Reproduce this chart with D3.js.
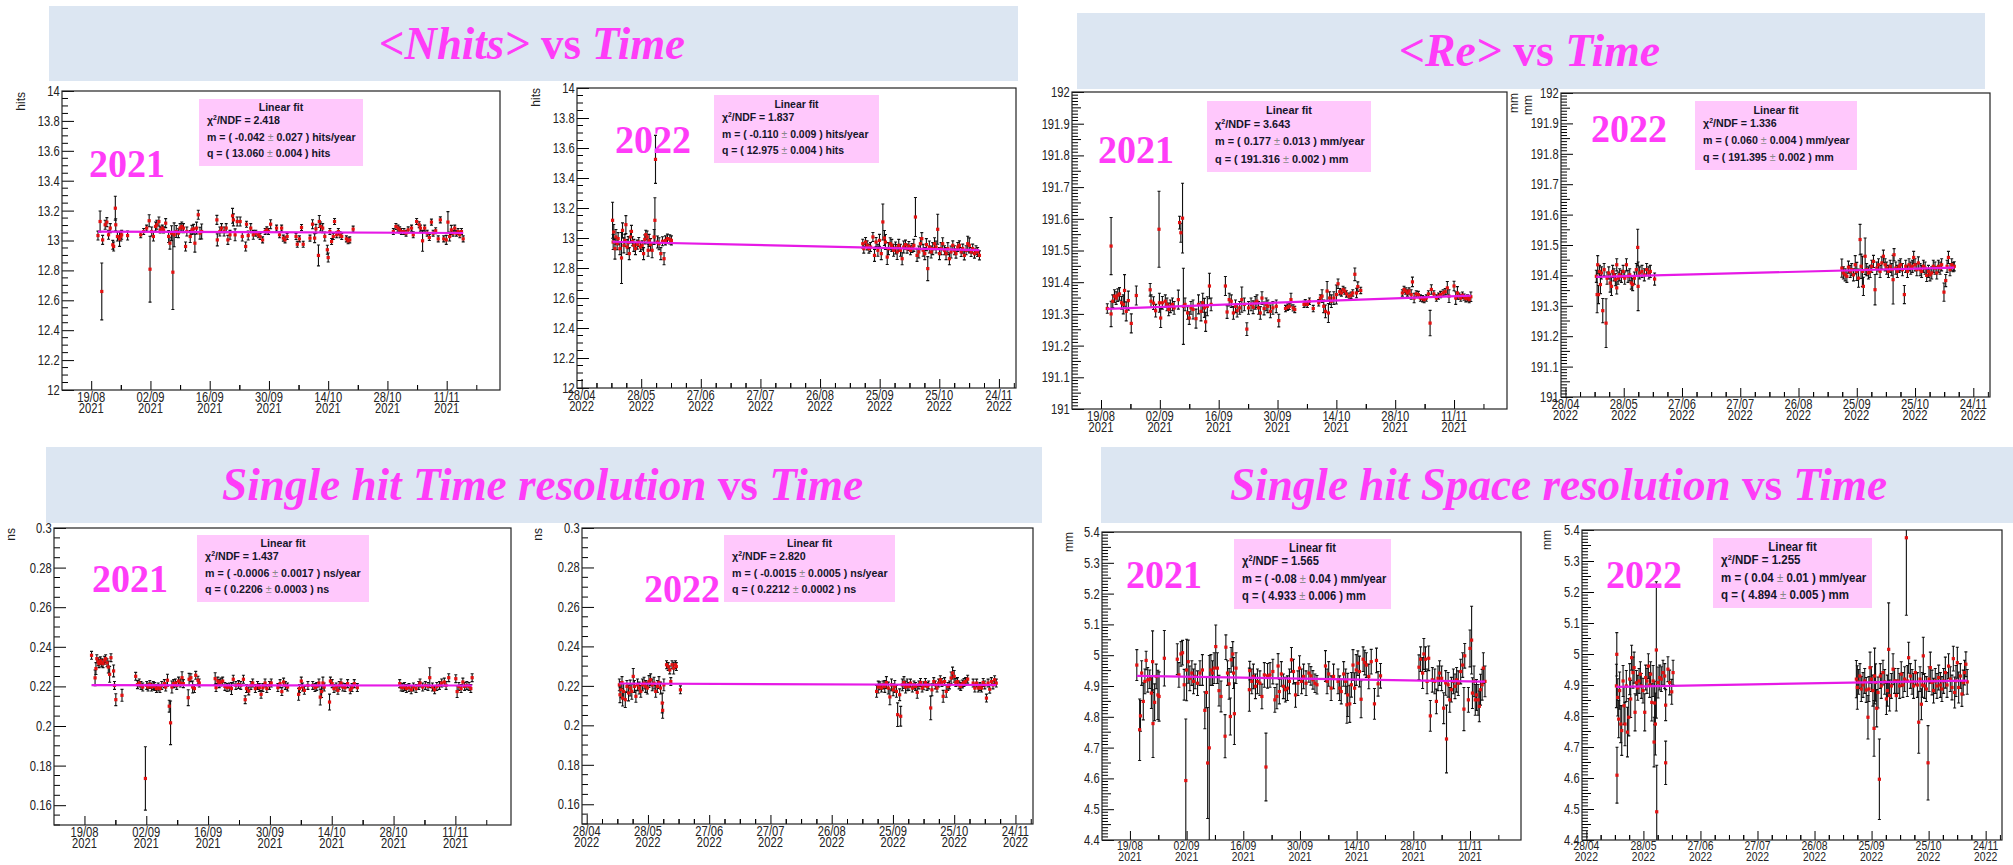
<!DOCTYPE html>
<html>
<head>
<meta charset="utf-8">
<script src="https://cdn.jsdelivr.net/npm/d3@7"></script>
<style>
body { margin: 0; background: #fff; }
svg text { font-family: "Liberation Sans", Arial, sans-serif; }
</style>
</head>
<body>
<div id="chart-area"></div>
<script>
// ---------- data (days since 19/08/2021 or 28/04/2022) ----------

// <Nhits> 2021
const nhits21Day = [1.6,2.1,2.5,2.7,3.3,3.7,4.1,4.5,5.1,5.3, 5.7,5.8,6.2,6.7,7.0,7.2,8.6,11.7,12.4,13.1,
  13.7,13.9,14.3,14.7,15.2,15.5,16.0,16.3,16.8,17.1, 17.6,18.3,18.6,19.0,19.3,19.6,20.1,20.6,21.0,21.4,
  21.8,22.3,22.6,23.4,23.8,24.2,24.5,24.9,25.3,25.7, 26.1,29.7,29.8,30.4,30.8,31.4,31.9,32.3,32.8,33.4,
  33.6,34.0,34.5,35.2,35.7,36.5,36.7,37.1,37.7,38.3, 38.9,39.5,39.9,40.5,41.1,41.5,41.9,42.4,43.8,44.5,
  45.0,45.4,45.8,46.3,48.4,48.7,49.2,49.7,50.1,51.7, 52.3,52.8,53.1,53.7,53.9,54.2,54.7,55.2,55.8,56.0,
  56.4,56.8,57.2,57.5,58.0,58.4,58.8,59.2,60.3,60.7, 61.1,61.9,71.4,72.0,72.5,72.9,73.3,73.9,74.4,74.9,
  75.7,76.1,76.9,77.5,77.8,78.3,78.8,79.4,79.9,80.4, 80.8,81.4,82.0,82.5,83.3,83.9,84.3,84.7,85.1,85.5,
  85.9,86.3,86.7,87.1,87.5,87.9];
const nhits21Val = [13.033,13.127,12.659,13.004,13.105,13.123,13.038,13.083,12.971,12.96,
  13.216,13.105,13.027,13.011,13.027,13.038,13.033,13.038,13.06,13.083,
  13.132,12.808,13.06,13.027,13.094,13.105,13.127,13.071,13.083,13.071,
  13.116,13.027,12.982,13.049,12.788,13.038,13.06,13.049,13.083,13.094,
  13.083,12.96,13.06,13.027,13.071,13.078,12.982,13.083,13.172,13.049,
  13.06,13.138,13.004,13.06,13.083,13.06,13.083,13.004,13.038,13.165,
  13.138,13.038,13.127,13.127,13.027,12.96,13.109,13.033,13.083,13.038,
  13.049,13.038,13.027,13.004,13.06,13.071,13.06,13.109,13.083,13.038,
  13.083,13.016,13.004,13.027,13.027,12.975,13.011,13.087,12.975,13.016,
  13.109,13.016,13.078,12.9,13.127,13.094,13.083,13.027,12.938,12.886,
  13.06,12.993,13.027,13.127,13.038,13.06,13.038,13.027,13.011,12.998,
  13.004,13.076,13.06,13.094,13.083,13.071,13.06,13.06,13.049,13.071,
  13.083,13.038,13.127,13.105,13.083,12.998,13.083,13.049,13.02,13.123,
  13.049,13.065,13.011,13.138,13.011,13.004,13.123,13.027,13.071,13.049,
  13.083,13.049,13.06,13.038,13.06,13.011];
const nhits21Err = [.03,.07,.19,.03,.03,.03,.03,.03,.03,.03, .08,.04,.03,.05,.03,.03,.03,.02,.02,.02,
  .04,.22,.03,.03,.03,.03,.03,.02,.02,.02, .03,.04,.04,.05,.25,.08,.04,.03,.03,.03,
  .03,.03,.03,.04,.03,.03,.06,.04,.03,.04, .05,.03,.04,.03,.03,.03,.03,.03,.03,.05,
  .04,.04,.03,.03,.03,.03,.02,.03,.03,.03, .02,.02,.02,.02,.02,.02,.02,.03,.02,.02,
  .02,.02,.02,.02,.02,.02,.02,.02,.02,.02, .03,.03,.03,.07,.04,.03,.03,.03,.03,.03,
  .02,.02,.02,.02,.02,.02,.02,.02,.02,.02, .02,.02,.02,.02,.02,.02,.02,.02,.02,.02,
  .02,.02,.02,.02,.02,.07,.02,.02,.02,.02, .02,.02,.02,.02,.02,.03,.07,.03,.03,.02,
  .02,.02,.02,.02,.02,.02];

// <Nhits> 2022
const nhits22Day = [15.6,15.9,16.2,16.8,17.3,17.9,18.4,19.3,20.1,20.6, 21.3,21.8,22.3,22.9,23.5,24.0,24.6,25.1,25.6,26.3,
  27.1,28.0,28.8,29.6,30.5,31.2,31.8,32.3,33.0,33.5, 34.0,34.7,35.5,36.5,36.9,37.2,38.2,39.0,39.9,40.7,
  41.5,42.2,43.2,44.4,45.2,
  141.5,142.0,142.9,143.7,144.6,145.4,146.6,147.4,148.2,149.1, 149.9,150.8,151.6,152.4,152.9,153.8,154.4,155.3,156.1,157.0,
  158.0,158.8,159.6,160.5,161.3,162.1,163.0,163.8,164.7,165.5, 166.3,167.2,168.0,168.8,169.7,170.5,171.2,171.9,172.7,173.5,
  174.2,175.0,175.9,176.7,177.6,178.4,179.2,180.1,180.9,181.7, 182.6,183.4,184.3,185.1,185.9,186.8,187.6,188.4,189.3,190.1,
  191.0,191.8,192.6,193.5,194.3,195.1,196.0,196.8,197.7,198.5, 199.3,200.2];
const nhits22Val = [13.118,12.973,13.04,12.929,13.007,12.962,12.996,12.929,12.867,13.051,
  12.951,12.984,13.089,12.94,12.969,12.896,13.007,13.044,12.978,12.951,
  12.929,12.956,12.973,12.94,12.951,12.896,12.991,13.022,13.007,12.918,
  12.984,12.956,12.918,13.007,13.118,13.524,12.973,12.962,12.896,12.978,
  12.862,12.984,12.996,12.991,12.984,
  12.962,12.929,12.973,12.951,12.929,12.94,13.007,12.884,12.973,12.918,
  12.984,12.896,13.107,13.0,12.973,12.873,12.929,12.962,12.951,12.918,
  12.933,12.907,12.951,12.918,12.862,12.94,12.956,12.929,12.947,12.918,
  12.933,12.951,13.14,12.884,12.907,12.962,12.996,12.918,12.896,12.956,
  12.796,12.94,12.907,12.929,12.962,12.94,13.058,12.896,12.929,12.962,
  12.918,12.896,12.929,12.862,12.907,12.951,12.918,12.896,12.94,12.951,
  12.907,12.929,12.884,12.918,12.962,12.951,12.907,12.929,12.896,12.918,
  12.907,12.884];
const nhits22Err = [.12,.05,.05,.07,.05,.04,.04,.04,.17,.05, .05,.04,.06,.05,.04,.04,.04,.04,.03,.04,
  .04,.03,.03,.03,.03,.04,.03,.03,.04,.04, .04,.04,.05,.05,.15,.16,.04,.04,.04,.03,
  .04,.03,.03,.03,.03,
  .03,.03,.03,.03,.03,.03,.03,.04,.03,.04, .04,.04,.12,.05,.05,.05,.04,.04,.04,.04,
  .04,.05,.04,.04,.04,.04,.03,.03,.03,.03, .03,.04,.13,.04,.04,.04,.04,.04,.04,.04,
  .08,.04,.04,.04,.04,.04,.1,.04,.04,.04, .03,.04,.04,.04,.04,.03,.03,.03,.03,.03,
  .03,.03,.03,.03,.05,.05,.03,.03,.03,.03, .03,.03];

// <Re> 2021
const re21Day = [1.5,2.4,2.4,2.8,3.2,3.6,4.0,4.4,4.9,5.3, 5.6,6.0,6.5,7.2,8.4,11.7,11.9,12.5,13.0,13.8,
  13.9,14.2,14.6,15.3,15.7,16.1,16.5,17.0,17.4,18.4, 18.7,19.0,19.4,19.6,20.0,20.6,21.0,21.4,21.9,22.6,
  23.2,23.8,24.2,24.6,24.9,25.3,25.8,26.2,29.6,30.0, 30.5,31.0,31.5,32.0,32.4,33.0,33.5,34.1,34.7,35.1,
  35.7,36.2,36.7,37.1,37.5,37.9,38.3,38.8,39.3,39.7, 40.3,40.9,41.7,42.3,43.9,44.4,44.8,45.2,45.7,46.1,
  48.3,48.6,49.1,49.6,50.5,51.8,52.2,52.6,53.0,53.4, 53.8,54.1,54.4,54.8,55.4,56.0,56.4,56.8,57.2,57.6,
  58.0,58.4,59.0,59.5,59.9,60.4,60.8,61.1,61.8,71.7, 72.1,72.5,72.9,73.3,73.8,74.1,74.5,75.0,75.5,76.0,
  76.5,76.9,77.4,77.9,78.3,78.6,79.2,79.8,80.3,80.8, 81.4,81.9,82.4,82.8,84.0,84.4,84.8,85.2,85.6,86.0,
  86.4,86.8,87.2,87.6,88.0];
const re21Val = [191.317,191.514,191.30,191.34,191.356,191.35,191.359,191.363,191.335,191.33,
  191.374,191.308,191.342,191.27,191.358,191.376,191.34,191.334,191.31,191.567,
  191.335,191.287,191.335,191.34,191.33,191.314,191.324,191.33,191.319,191.345,
  191.588,191.556,191.602,191.324,191.33,191.303,191.287,191.319,191.314,191.285,
  191.33,191.308,191.335,191.319,191.275,191.324,191.388,191.33,191.388,191.306,
  191.345,191.34,191.303,191.324,191.31,191.319,191.345,191.33,191.252,191.319,
  191.33,191.321,191.335,191.34,191.319,191.303,191.35,191.317,191.33,191.324,
  191.308,191.319,191.324,191.279,191.317,191.321,191.324,191.345,191.319,191.314,
  191.33,191.335,191.33,191.34,191.317,191.335,191.35,191.356,191.324,191.308,
  191.372,191.303,191.35,191.34,191.35,191.361,191.395,191.37,191.366,191.377,
  191.372,191.363,191.356,191.359,191.366,191.425,191.366,191.386,191.374,191.366,
  191.377,191.372,191.366,191.372,191.361,191.401,191.35,191.363,191.361,191.35,
  191.348,191.345,191.35,191.363,191.271,191.377,191.363,191.35,191.356,191.361,
  191.366,191.37,191.382,191.356,191.388,191.35,191.366,191.356,191.35,191.359,
  191.353,191.348,191.35,191.345,191.354];
const re21Err = [.015,.09,.04,.02,.02,.02,.02,.02,.02,.03, .05,.03,.03,.03,.03,.02,.02,.02,.02,.12,
  .03,.03,.02,.02,.02,.02,.02,.02,.02,.03, .02,.03,.11,.12,.02,.02,.02,.02,.03,.03,
  .03,.03,.03,.03,.03,.03,.04,.02,.03,.02, .02,.02,.02,.02,.02,.02,.04,.02,.02,.02,
  .02,.02,.02,.02,.02,.02,.02,.02,.02,.02, .02,.02,.02,.02,.01,.01,.01,.02,.01,.01,
  .01,.01,.01,.01,.01,.01,.01,.02,.02,.02, .03,.03,.02,.02,.02,.03,.015,.01,.01,.01,
  .01,.01,.01,.01,.01,.02,.015,.015,.01,.01, .01,.01,.01,.01,.015,.015,.015,.01,.01,.01,
  .01,.01,.01,.01,.04,.015,.01,.01,.01,.01, .01,.01,.02,.02,.015,.02,.02,.01,.01,.01,
  .01,.01,.01,.01,.015];

// <Re> 2022
const re22Day = [15.9,16.3,16.6,17.0,17.5,18.0,18.5,19.2,19.9,20.9, 21.4,22.3,23.0,23.7,24.3,25.0,25.7,26.4,26.4,27.1,
  27.9,28.8,29.7,30.5,31.4,32.2,33.1,33.9,34.6,35.5, 36.5,37.2,37.4,38.2,39.4,40.6,41.8,42.9,43.7,45.9,
  142.3,143.1,144.0,144.9,145.7,146.6,147.4,148.3,149.2,150.0, 150.9,151.7,152.2,152.9,153.4,154.3,155.1,156.0,156.9,157.7,
  158.6,159.4,160.3,161.2,162.0,162.9,163.7,164.6,165.4,166.3, 167.2,168.0,168.7,169.2,170.1,170.9,171.8,172.6,173.5,174.5,
  175.2,176.1,176.9,177.8,178.6,179.3,180.0,180.9,181.7,182.6, 183.4,184.3,185.2,186.0,186.9,187.7,188.6,189.4,190.3,191.2,
  192.0,192.9,193.7,194.9,195.8,196.5,197.2,198.0,198.9,199.7, 200.2];
const re22Val = [191.397,191.337,191.435,191.337,191.413,191.37,191.408,191.284,191.419,191.243,
  191.391,191.408,191.375,191.364,191.413,191.402,191.386,191.435,191.359,191.391,
  191.402,191.397,191.413,191.391,191.435,191.397,191.402,191.375,191.37,191.391,
  191.419,191.492,191.364,191.408,191.413,191.402,191.419,191.408,191.413,191.388,
  191.424,191.408,191.402,191.397,191.427,191.413,191.419,191.402,191.435,191.413,
  191.391,191.518,191.43,191.413,191.364,191.463,191.419,191.408,191.413,191.43,
  191.446,191.353,191.424,191.435,191.413,191.441,191.463,191.435,191.424,191.413,
  191.43,191.419,191.386,191.468,191.424,191.413,191.43,191.435,191.419,191.337,
  191.43,191.413,191.435,191.424,191.43,191.459,191.435,191.419,191.441,191.419,
  191.413,191.43,191.424,191.4,191.413,191.402,191.408,191.43,191.424,191.408,
  191.43,191.424,191.435,191.345,191.383,191.43,191.459,191.419,191.435,191.427,
  191.43];
const re22Err = [.02,.06,.03,.03,.02,.03,.02,.04,.02,.08, .02,.02,.03,.03,.02,.02,.02,.02,.02,.02,
  .02,.02,.02,.02,.02,.02,.02,.02,.02,.02, .02,.06,.08,.02,.02,.02,.02,.02,.02,.02,
  .03,.02,.02,.02,.02,.02,.02,.02,.03,.03, .03,.05,.04,.05,.03,.06,.02,.02,.02,.02,
  .02,.05,.02,.02,.02,.02,.02,.02,.02,.02, .02,.02,.08,.02,.02,.02,.02,.02,.02,.03,
  .02,.02,.02,.02,.02,.02,.02,.02,.02,.02, .02,.02,.02,.02,.02,.02,.02,.02,.02,.02,
  .02,.02,.02,.03,.02,.02,.02,.02,.02,.015, .015];

// Time resolution 2021
const ns21Day = [1.6,2.4,2.6,2.8,3.1,3.3,3.6,3.9,4.2,4.5, 4.8,5.1,5.4,5.7,6.0,6.6,6.8,7.1,8.5,11.6,
  12.0,12.4,12.8,13.2,13.8,14.1,14.4,14.8,15.2,15.6, 15.9,16.3,16.7,17.1,17.5,18.1,18.4,18.8,19.2,19.5,
  19.8,20.2,20.6,20.9,21.3,21.7,22.1,22.4,23.5,23.7, 24.1,24.5,24.9,25.2,25.7,26.0,29.6,29.8,30.2,30.5,
  30.9,31.3,31.8,32.3,32.8,33.3,33.7,34.3,34.9,35.4, 36.0,36.4,36.7,37.2,37.7,38.1,38.7,39.2,39.6,40.0,
  40.4,40.9,41.3,41.9,42.3,43.8,44.3,44.7,45.1,45.5, 46.0,48.5,48.7,49.1,49.4,49.8,50.6,51.7,52.2,52.6,
  53.1,53.4,53.7,54.0,54.3,55.5,55.7,56.1,56.5,57.0, 57.4,57.7,58.1,58.5,59.0,59.6,60.2,60.6,61.1,61.8,
  71.4,71.7,72.1,72.5,72.9,73.5,74.0,74.5,75.1,75.7, 76.0,76.6,77.2,77.8,78.2,78.8,79.3,79.8,80.4,80.9,
  81.5,81.9,82.5,84.1,84.4,84.8,85.3,85.7,86.1,86.6, 87.1,87.5,87.8];
const ns21Val = [.2357,.2243,.229,.234,.2324,.2315,.2329,.2319,.2315,.2332, .234,.2319,.2298,.2261,.2345,.2278,.2205,.2133,.2155,.2251,
  .2209,.2217,.2205,.2197,.1735,.2205,.2197,.221,.2197,.2205, .22,.2189,.2197,.2189,.2205,.2214,.2197,.2231,.21,.2016,
  .2197,.2214,.2217,.2205,.2227,.2217,.2244,.2214,.2143,.2236, .2244,.2197,.2189,.2256,.2231,.2217,.2239,.2194,.2227,.2214,
  .2222,.2227,.22,.2194,.2197,.2189,.2236,.2205,.221,.2205, .2236,.2133,.2189,.2177,.2205,.2217,.2189,.2205,.2194,.216,
  .2194,.2217,.2189,.2205,.2217,.2194,.2214,.2174,.2222,.2205, .2197,.216,.2189,.2227,.2197,.218,.2205,.2205,.2194,.22,
  .2217,.2146,.2174,.2217,.2197,.2121,.2227,.2214,.2189,.2197, .218,.2205,.2217,.2197,.2194,.2214,.2183,.2194,.2214,.2194,
  .2214,.2197,.2194,.22,.2189,.2194,.2183,.2197,.2189,.2205, .2217,.2197,.2205,.22,.2244,.2197,.2183,.22,.2205,.2217,
  .2222,.2205,.2244,.2239,.2174,.22,.2189,.2222,.22,.2205, .22,.2189,.2244];
const ns21Err = [.002,.004,.003,.002,.002,.002,.002,.002,.002,.002, .002,.002,.003,.004,.002,.003,.002,.003,.003,.002,
  .002,.002,.002,.002,.016,.002,.002,.002,.002,.002, .002,.002,.002,.002,.002,.002,.002,.003,.003,.011,
  .003,.002,.002,.002,.002,.002,.003,.002,.004,.003, .002,.003,.002,.002,.002,.002,.003,.002,.002,.002,
  .002,.002,.002,.002,.002,.003,.002,.002,.002,.002, .002,.002,.002,.002,.002,.002,.002,.002,.002,.002,
  .002,.002,.002,.002,.002,.002,.002,.002,.002,.002, .002,.003,.002,.002,.002,.002,.002,.002,.002,.002,
  .002,.004,.003,.003,.002,.004,.002,.002,.002,.002, .002,.002,.002,.002,.002,.002,.002,.002,.002,.002,
  .002,.002,.002,.002,.002,.002,.002,.002,.002,.002, .002,.002,.002,.002,.005,.002,.002,.002,.002,.002,
  .002,.002,.002,.002,.003,.002,.002,.002,.002,.002, .002,.002,.002];

// Time resolution 2022
const ns22Day = [16.0,16.3,16.8,17.3,17.6,18.1,18.9,19.7,20.5,21.3, 22.1,22.8,23.4,24.1,24.9,25.7,26.5,27.3,28.1,28.9,
  29.7,30.5,31.3,32.1,33.0,33.8,34.6,35.4,36.2,37.0, 37.2,37.8,39.1,39.9,40.7,41.2,41.8,42.6,43.5,43.9,
  45.9,
  142.0,142.8,143.6,144.4,145.2,146.0,146.8,147.7,148.5,149.3, 150.1,150.9,151.7,152.3,153.3,153.8,154.6,155.4,156.2,157.0,
  157.8,158.6,159.5,160.3,161.1,161.9,162.7,163.5,164.3,165.1, 165.9,166.7,167.5,168.5,169.1,170.0,170.8,171.6,172.4,173.2,
  174.0,174.6,175.3,176.1,176.9,177.7,178.5,179.2,180.0,180.8, 181.6,182.4,183.2,184.0,184.8,185.6,186.6,189.3,190.1,191.0,
  191.8,192.6,193.4,194.2,195.0,195.8,196.6,197.4,198.2,199.0, 199.8,200.6];
const ns22Val = [.2205,.2155,.218,.2217,.2138,.2172,.213,.2197,.2164,.2189, .2172,.2248,.2197,.2147,.2205,.2189,.2172,.2205,.2214,.2197,
  .2189,.2222,.2231,.2205,.2214,.2172,.2197,.2217,.2189,.2113, .2076,.2205,.2307,.2298,.2281,.2222,.2307,.229,.2307,.2298,
  .218,
  .2172,.2194,.22,.2189,.2205,.2197,.2217,.2189,.2144,.2205, .218,.2197,.2172,.2054,.2155,.2046,.2205,.2217,.2194,.2205,
  .2197,.2214,.2189,.2205,.2197,.2167,.2205,.2217,.2189,.22, .2217,.2197,.2205,.2088,.218,.2222,.2205,.2189,.2214,.2231,
  .2217,.2147,.2222,.2172,.2197,.2205,.224,.2265,.2248,.2217, .2222,.2205,.2197,.221,.2217,.2222,.2234,.2214,.2189,.2214,
  .2189,.2197,.2189,.2217,.2205,.2138,.2214,.2183,.2222,.2205, .2231,.2214];
const ns22Err = [.003,.004,.004,.003,.004,.004,.004,.003,.004,.004, .004,.004,.003,.003,.003,.003,.003,.003,.003,.003,
  .003,.003,.003,.003,.003,.003,.003,.003,.003,.005, .004,.003,.002,.002,.002,.002,.002,.003,.002,.002,
  .002,
  .003,.003,.002,.002,.002,.003,.003,.003,.004,.003, .003,.003,.003,.006,.003,.005,.003,.003,.003,.003,
  .002,.002,.002,.002,.002,.003,.002,.002,.002,.002, .002,.002,.002,.006,.003,.002,.002,.002,.002,.002,
  .002,.003,.002,.003,.002,.002,.003,.003,.003,.002, .002,.002,.002,.002,.002,.002,.002,.002,.002,.002,
  .002,.002,.002,.002,.002,.002,.002,.002,.002,.002, .002,.002];

// Space resolution 2021
const sp21Day = [1.7,2.4,2.6,2.9,3.3,3.7,4.0,4.4,4.9,5.3, 5.6,5.7,6.1,6.5,6.9,7.2,8.5,11.7,12.1,12.6,
  13.0,13.4,13.8,14.0,14.4,14.8,15.3,15.7,16.1,16.7, 17.3,17.9,18.5,18.9,19.2,19.6,20.0,20.4,20.8,21.2,
  21.6,22.0,22.5,23.5,23.7,24.1,24.5,24.8,25.0,25.4, 25.6,25.8,26.2,29.5,29.6,30.1,30.5,31.0,31.5,32.1,
  32.6,33.2,33.6,34.0,34.6,35.3,35.8,36.3,36.6,36.9, 37.4,37.9,38.4,38.9,39.4,39.9,40.4,40.9,41.5,41.9,
  42.4,42.9,43.5,44.2,44.7,45.2,45.7,46.2,48.3,48.7, 49.1,49.7,50.3,51.4,51.8,52.2,52.8,53.3,53.6,53.8,
  54.3,54.7,55.1,55.5,55.9,56.3,56.7,57.1,57.6,58.0, 58.4,59.0,59.6,60.4,60.9,61.3,61.9,71.4,71.8,72.3,
  72.6,73.0,73.4,73.8,74.2,74.7,75.3,75.7,76.1,76.5, 77.0,77.5,78.0,78.2,78.6,79.0,79.4,79.9,80.3,80.7,
  81.1,81.7,82.2,82.5,82.7,83.6,84.0,84.4,84.6,85.0, 85.3,85.6,86.0,86.3,86.6,87.0,87.3,87.7];
const sp21Val = [4.968,4.758,4.803,4.942,4.85,4.915,4.983,4.92,4.922,4.877, 4.979,4.778,4.847,4.931,4.871,4.866,4.99,4.987,4.936,5.004,
  5.008,4.904,4.593,4.952,4.979,4.925,4.942,4.915,4.931,4.909, 4.942,4.952,4.821,4.879,4.65,4.699,4.952,4.942,4.958,5.028,
  4.958,4.885,4.866,4.737,5.026,4.942,4.907,4.801,4.985,5.004, 4.942,4.81,4.958,4.888,4.95,4.915,4.931,4.899,4.915,4.909,
  4.866,4.936,4.637,4.933,4.936,4.947,4.855,4.866,4.965,4.882, 4.939,4.899,4.888,4.893,4.915,4.985,4.947,4.871,4.909,4.958,
  4.915,4.931,4.909,4.942,4.933,4.92,4.909,4.904,4.965,4.915, 4.939,4.893,4.931,4.915,4.893,4.882,4.939,4.915,4.839,4.871,
  4.842,4.904,4.968,4.893,4.952,4.974,4.947,4.857,4.987,4.976, 4.968,4.931,4.979,4.842,4.983,4.907,4.933,4.961,4.987,4.942,
  5.004,4.987,4.915,4.99,4.803,4.92,4.915,4.85,4.925,4.942, 4.925,4.828,4.91,4.728,4.904,4.855,4.888,4.915,4.899,4.92,
  4.909,4.947,4.968,4.825,4.998,4.855,5.022,5.049,4.877,4.915, 4.855,4.871,4.855,4.834,4.888,4.904,4.958,4.915];
const sp21Err = [.05,.1,.05,.04,.06,.04,.03,.04,.03,.05, .1,.11,.06,.04,.08,.08,.09,.05,.04,.04,
  .04,.05,.2,.1,.07,.04,.04,.04,.04,.04, .04,.05,.06,.05,.18,.3,.05,.04,.05,.07,
  .05,.05,.05,.07,.04,.04,.05,.06,.04,.04, .05,.1,.05,.07,.03,.04,.04,.04,.04,.04,
  .04,.04,.11,.04,.04,.04,.04,.04,.04,.04, .04,.04,.04,.04,.04,.04,.04,.04,.04,.04,
  .04,.04,.04,.03,.03,.03,.03,.03,.05,.04, .04,.04,.04,.04,.04,.04,.04,.04,.06,.07,
  .06,.04,.05,.05,.05,.04,.05,.06,.04,.04, .04,.04,.04,.05,.04,.04,.04,.04,.04,.05,
  .05,.04,.04,.04,.05,.04,.04,.04,.04,.04, .04,.05,.04,.11,.04,.04,.04,.04,.04,.04,
  .04,.04,.04,.07,.04,.04,.06,.11,.05,.05, .05,.05,.05,.05,.05,.05,.05,.05];

// Space resolution 2022
const sp22Day = [15.8,16.0,16.1,16.5,17.0,17.5,18.1,18.6,19.3,19.8, 20.3,21.0,21.6,22.3,22.8,23.3,23.8,24.5,25.1,25.6,
  26.3,27.0,27.7,28.4,28.9,29.8,30.7,31.2,31.9,32.6, 33.3,33.8,34.4,35.1,35.6,35.9,36.3,36.8,37.0,37.7,
  38.6,39.4,40.3,41.2,41.7,41.7,42.9,43.8,44.9,45.6,
  142.0,142.5,143.2,143.9,144.6,145.5,146.4,147.2,148.1,148.6, 149.2,149.9,150.7,151.3,151.6,152.1,152.7,153.4,154.1,154.6,
  155.1,156.0,156.9,157.8,158.3,159.0,159.5,160.4,161.3,162.1, 163.0,163.9,164.8,165.6,166.5,167.4,168.3,168.8,169.5,170.4,
  171.3,172.1,173.0,174.1,174.8,175.5,176.2,176.7,177.2,177.9, 178.8,179.7,180.2,180.9,181.8,182.6,183.5,184.4,185.3,186.2,
  187.0,187.9,188.8,189.7,190.5,191.4,192.3,193.0,193.7,194.4, 195.1,195.8,196.7,197.5,198.2,198.9,199.6,200.3];
const sp22Val = [4.897,4.999,4.609,4.86,4.79,4.882,4.774,4.753,4.913,4.833, 4.774,4.897,4.748,4.796,4.919,4.855,4.988,4.94,4.956,4.812,
  4.907,4.891,4.913,4.935,4.897,4.882,4.812,4.924,4.913,4.961, 4.9,4.935,4.844,4.913,4.716,4.842,4.774,5.013,4.491,4.908,
  4.924,4.919,4.94,4.929,4.835,4.649,4.951,4.908,4.878,4.94,
  4.919,4.892,4.91,4.929,4.887,4.9,4.913,4.884,4.796,4.887, 4.956,4.919,4.882,4.76,4.929,4.908,4.825,4.876,4.596,4.929,
  4.897,4.94,4.91,4.855,4.882,5.015,4.866,4.897,4.951,4.913, 4.866,4.913,4.897,4.935,4.9,4.919,5.375,4.913,4.988,4.929,
  4.91,4.897,4.94,4.9,4.78,4.919,4.838,4.9,4.994,4.897, 4.887,4.649,4.919,4.956,4.908,4.882,4.913,4.897,4.924,4.9,
  4.887,4.913,4.94,4.9,4.961,4.919,4.892,4.985,4.876,4.913, 4.972,4.892,4.929,4.871,4.908,4.94,4.967,4.91];
const sp22Err = [.07,.07,.09,.06,.06,.06,.06,.08,.05,.06, .07,.05,.08,.06,.05,.06,.04,.05,.05,.06,
  .04,.04,.04,.04,.04,.04,.06,.04,.04,.04, .04,.04,.06,.05,.08,.07,.1,.22,.15,.05,
  .04,.04,.04,.04,.05,.07,.04,.04,.04,.04,
  .06,.07,.04,.04,.04,.04,.04,.04,.07,.04, .05,.04,.05,.09,.09,.06,.06,.05,.13,.04,
  .04,.04,.04,.05,.05,.15,.05,.04,.05,.04, .05,.04,.04,.04,.04,.04,.25,.05,.05,.04,
  .04,.04,.04,.04,.1,.04,.05,.04,.06,.04, .04,.12,.04,.05,.04,.04,.04,.04,.04,.04,
  .04,.04,.05,.04,.04,.04,.04,.04,.05,.05, .05,.05,.04,.04,.04,.04,.04,.04];

// axis tick labels
const nhitsTicks = [12,12.2,12.4,12.6,12.8,13,13.2,13.4,13.6,13.8,14];
const reTicks = [191,191.1,191.2,191.3,191.4,191.5,191.6,191.7,191.8,191.9,192];
const nsTicks = [0.16,0.18,0.2,0.22,0.24,0.26,0.28,0.3];
const spaceTicks = [4.4,4.5,4.6,4.7,4.8,4.9,5,5.1,5.2,5.3,5.4];
const dates2021 = ["2021-08-19","2021-09-02","2021-09-16","2021-09-30","2021-10-14","2021-10-28","2021-11-11"];
const dates2022 = ["2022-04-28","2022-05-28","2022-06-27","2022-07-27","2022-08-26","2022-09-25","2022-10-25","2022-11-24"];

// linear fit results
const fitChi2 = ["2.418","1.837","3.643","1.336","1.437","2.820","1.565","1.255"];
const fitM = ["-0.042","-0.110","0.177","0.060","-0.0006","-0.0015","-0.08","0.04"];
const fitMErr = ["0.027","0.009","0.013","0.004","0.0017","0.0005","0.04","0.01"];
const fitQ = ["13.060","12.975","191.316","191.395","0.2206","0.2212","4.933","4.894"];
const fitQErr = ["0.004","0.004","0.002","0.002","0.0003","0.0002","0.006","0.005"];
const units = ["hits","hits","mm","mm","ns","ns","mm","mm"];

const titles = [
  [["<Nhits>", true], [" vs ", false], ["Time", true]],
  [["<Re>", true], [" vs ", false], ["Time", true]],
  [["Single hit Time resolution", true], [" vs ", false], ["Time", true]],
  [["Single hit Space resolution", true], [" vs ", false], ["Time", true]]
];

// ---------- layout ----------
const W = 2013, H = 865;
const MAG = "#ff3cf8", PINK = "#ffc8fc", HEAD = "#dce6f2";
const SERIF = "'Liberation Serif', 'Times New Roman', serif";
const DAY = 864e5;
const base21 = Date.UTC(2021, 7, 19), base22 = Date.UTC(2022, 3, 28);
const xDom21 = [-6.9, 96.6], xDom22 = [-2.3, 218.6];

const headers = [
  {x:49, y:6, w:969, h:75, tx:379, ty:59, tw:306, fs:46},
  {x:1077, y:13, w:908, h:76, tx:1399, ty:66, tw:261, fs:47},
  {x:46, y:447, w:996, h:76, tx:222, ty:500, tw:641, fs:47},
  {x:1101, y:447, w:912, h:76, tx:1230, ty:500, tw:657, fs:47}
];

const panels = [
  {day:nhits21Day, val:nhits21Val, err:nhits21Err, yr:2021, yDom:[12,14], ticks:nhitsTicks, div:4},
  {day:nhits22Day, val:nhits22Val, err:nhits22Err, yr:2022, yDom:[12,14], ticks:nhitsTicks, div:4},
  {day:re21Day, val:re21Val, err:re21Err, yr:2021, yDom:[191,192], ticks:reTicks, div:10},
  {day:re22Day, val:re22Val, err:re22Err, yr:2022, yDom:[191,192], ticks:reTicks, div:10},
  {day:ns21Day, val:ns21Val, err:ns21Err, yr:2021, yDom:[0.15,0.3], ticks:nsTicks, div:4},
  {day:ns22Day, val:ns22Val, err:ns22Err, yr:2022, yDom:[0.15,0.3], ticks:nsTicks, div:4},
  {day:sp21Day, val:sp21Val, err:sp21Err, yr:2021, yDom:[4.4,5.4], ticks:spaceTicks, div:10},
  {day:sp22Day, val:sp22Val, err:sp22Err, yr:2022, yDom:[4.4,5.4], ticks:spaceTicks, div:10}
];

// xl: baseline offsets of the two date-label lines below the frame, and their size
const layout = [
  {x0:62, x1:500, y0:91, y1:390, box:[199,99,164,67], lab:[89,177], yt:[25,92], fs:11, sx:0.96, xl:[11.5,23,14]},
  {x0:577, x1:1016, y0:88, y1:388, box:[714,95,165,68], lab:[615,153], yt:[540,88], fs:11, sx:0.95, xl:[11.5,23,14]},
  {x0:1072, x1:1507, y0:92, y1:409, box:[1207,101,164,71], lab:[1098,163], yt:[1518,93], fs:11, sx:0.99, xl:[11.5,23,14]},
  {x0:1561, x1:1990, y0:93, y1:397, box:[1695,101,162,69], lab:[1591,142], yt:[1532,95], fs:11, sx:0.97, xl:[11.5,23,14]},
  {x0:54, x1:511, y0:528, y1:825, box:[197,535,172,67], lab:[92,592], yt:[15,528], fs:11, sx:0.97, xl:[11.5,23,14]},
  {x0:582, x1:1033, y0:528, y1:824, box:[724,535,171,67], lab:[644,602], yt:[542,528], fs:11, sx:0.97, xl:[11.5,23,14]},
  {x0:1102, x1:1521, y0:532, y1:840, box:[1234,539,157,70], lab:[1126,588], yt:[1073,532], fs:12.5, sx:0.89, xl:[10,20.5,13]},
  {x0:1582, x1:2002, y0:530, y1:840, box:[1713,538,159,70], lab:[1606,588], yt:[1551,530], fs:12.5, sx:0.92, xl:[10,20.5,13]}
];

// ---------- drawing ----------
const svg = d3.select("#chart-area").append("svg")
    .attr("width", W).attr("height", H);
svg.append("rect").attr("width", W).attr("height", H).attr("fill", "#fff");
const defs = svg.append("defs");

// header bars
headers.forEach((h, i) => {
    svg.append("rect").attr("x", h.x).attr("y", h.y).attr("width", h.w).attr("height", h.h).attr("fill", HEAD);
    const t = svg.append("text")
        .attr("x", h.tx).attr("y", h.ty)
        .style("font-family", SERIF)
        .attr("font-weight", "bold").attr("font-size", h.fs)
        .attr("fill", MAG)
        .attr("textLength", h.tw).attr("lengthAdjust", "spacingAndGlyphs")
        .style("white-space", "pre");
    titles[i].forEach(([s, it]) => t.append("tspan").attr("font-style", it ? "italic" : "normal").text(s));
});

function drawPanel(P, L, i) {
    const base = P.yr === 2021 ? base21 : base22;
    const xd = P.yr === 2021 ? xDom21 : xDom22;
    const toDate = d => new Date(base + d * DAY);

    const x = d3.scaleUtc().domain(xd.map(toDate)).range([L.x0, L.x1]);
    const y = d3.scaleLinear().domain(P.yDom).range([L.y1, L.y0]);

    const g = svg.append("g");
    g.append("rect").attr("x", L.x0).attr("y", L.y0)
        .attr("width", L.x1 - L.x0).attr("height", L.y1 - L.y0).attr("fill", "#fff");

    defs.append("clipPath").attr("id", "clip" + i).append("rect")
        .attr("x", L.x0).attr("y", L.y0).attr("width", L.x1 - L.x0).attr("height", L.y1 - L.y0);

    const pts = P.day.map((d, k) => ({t: toDate(d), v: P.val[k], e: P.err[k]}));
    const dg = g.append("g").attr("clip-path", "url(#clip" + i + ")");

    // error bars
    dg.append("g").selectAll("path").data(pts).join("path")
        .attr("d", p => {
            const X = x(p.t), a = y(p.v - p.e), b = y(p.v + p.e);
            return "M" + X + "," + a + "V" + b + "M" + (X - 1.5) + "," + a + "h3M" + (X - 1.5) + "," + b + "h3";
        })
        .attr("stroke", "#111").attr("stroke-width", 1.1).attr("fill", "none");

    // markers
    dg.append("g").selectAll("rect").data(pts).join("rect")
        .attr("x", p => x(p.t) - 1.6).attr("y", p => y(p.v) - 1.6)
        .attr("width", 3.2).attr("height", 3.2).attr("fill", "#e31010");

    // linear fit
    const d0 = P.day[0], d1 = P.day[P.day.length - 1];
    const m = +fitM[i], q = +fitQ[i];
    const fit = [d0, d1].map(d => ({t: toDate(d), v: q + m * (d - d0) / 365.25}));
    dg.append("path").attr("d", d3.line().x(p => x(p.t)).y(p => y(p.v))(fit))
        .attr("stroke", "#e619e6").attr("stroke-width", 2.2).attr("fill", "none");

    // y axis (ticks inside the frame)
    const yAxis = g.append("g").attr("transform", "translate(" + L.x0 + ",0)")
        .attr("color", "#000")
        .call(d3.axisLeft(y).tickValues(P.ticks).tickSizeInner(-12).tickSizeOuter(0)
            .tickPadding(3).tickFormat(v => String(+v.toFixed(4))));
    yAxis.select(".domain").remove();
    yAxis.selectAll("text").attr("font-size", 14)
        .attr("fill", "#222").attr("transform", "scale(0.8,1)");

    const step = (P.ticks[1] - P.ticks[0]) / P.div;
    const minor = d3.range(-60, 300)
        .map(k => ({k: k, v: P.ticks[0] + k * step}))
        .filter(o => o.k % P.div !== 0 && o.v >= P.yDom[0] - 1e-9 && o.v <= P.yDom[1] + 1e-9);
    g.append("g").selectAll("line").data(minor).join("line")
        .attr("x1", L.x0).attr("x2", o => L.x0 + (P.div === 10 && Math.abs(o.k % 10) === 5 ? 9 : 6))
        .attr("y1", o => y(o.v)).attr("y2", o => y(o.v))
        .attr("stroke", "#000").attr("stroke-width", 1);

    // x axis (time)
    const labels = (P.yr === 2021 ? dates2021 : dates2022).map(s => new Date(s + "T00:00:00Z"));
    const xAxis = g.append("g").attr("transform", "translate(0," + L.y1 + ")")
        .attr("color", "#000")
        .call(d3.axisBottom(x).tickValues(labels).tickSizeInner(-9).tickSizeOuter(0).tickFormat(""));
    xAxis.select(".domain").remove();

    const minorStep = P.yr === 2021 ? [7] : [7.5, 15, 22.5];
    const xMinor = [];
    labels.forEach(d => minorStep.forEach(s => xMinor.push(new Date(+d + s * DAY))));
    labels.forEach(d => minorStep.forEach(s => xMinor.push(new Date(+d - s * DAY))));
    const xm = xMinor.filter(d => d > x.domain()[0] && d < x.domain()[1]);
    g.append("g").attr("transform", "translate(0," + L.y1 + ")").attr("color", "#000")
        .call(d3.axisBottom(x).tickValues(xm).tickSizeInner(-5).tickSizeOuter(0).tickFormat(""))
        .select(".domain").remove();

    const fmtDay = d3.utcFormat("%d/%m"), fmtYear = d3.utcFormat("%Y");
    const xg = g.append("g").attr("text-anchor", "middle").attr("font-size", L.xl[2]).attr("fill", "#222");
    xg.selectAll("text.d").data(labels).join("text").attr("class", "d")
        .attr("transform", d => "translate(" + x(d) + "," + (L.y1 + L.xl[0]) + ") scale(0.8,1)")
        .text(fmtDay);
    xg.selectAll("text.y").data(labels).join("text").attr("class", "y")
        .attr("transform", d => "translate(" + x(d) + "," + (L.y1 + L.xl[1]) + ") scale(0.8,1)")
        .text(fmtYear);

    // frame
    g.append("rect").attr("x", L.x0).attr("y", L.y0)
        .attr("width", L.x1 - L.x0).attr("height", L.y1 - L.y0)
        .attr("fill", "none").attr("stroke", "#222").attr("stroke-width", 1.2);

    // y title
    g.append("text").attr("transform", "translate(" + L.yt[0] + "," + L.yt[1] + ") rotate(-90)")
        .attr("text-anchor", "end").attr("font-size", 12).attr("fill", "#222").text(units[i]);

    // stat box
    const [bx, by, bw, bh] = L.box;
    const k = bh / 68;
    g.append("rect").attr("x", bx).attr("y", by).attr("width", bw).attr("height", bh).attr("fill", PINK);
    const line = (xx, yy, anchor) => g.append("text")
        .attr("transform", "translate(" + xx + "," + yy + ") scale(" + L.sx + ",1)")
        .attr("text-anchor", anchor).attr("font-size", L.fs).attr("font-weight", "bold").attr("fill", "#15152a")
        .style("white-space", "pre");
    line(bx + bw / 2, by + 12.5 * k, "middle").text("Linear fit");
    const c = line(bx + 8, by + 25.5 * k, "start");
    c.append("tspan").text("χ");
    c.append("tspan").attr("font-size", L.fs * 0.65).attr("dy", -4).text("2");
    c.append("tspan").attr("dy", 4).text("/NDF = " + fitChi2[i]);
    const mt = line(bx + 8, by + 42.5 * k, "start");
    mt.append("tspan").text("m = ( " + fitM[i] + " ");
    mt.append("tspan").attr("font-weight", "normal").attr("fill", "#888").text("±");
    mt.append("tspan").text(" " + fitMErr[i] + " ) " + units[i] + "/year");
    const qt = line(bx + 8, by + 59 * k, "start");
    qt.append("tspan").text("q = ( " + fitQ[i] + " ");
    qt.append("tspan").attr("font-weight", "normal").attr("fill", "#888").text("±");
    qt.append("tspan").text(" " + fitQErr[i] + " ) " + units[i]);

    // year label
    g.append("text").attr("x", L.lab[0]).attr("y", L.lab[1])
        .style("font-family", SERIF)
        .attr("font-weight", "bold").attr("font-size", 40).attr("fill", MAG)
        .attr("textLength", 76).attr("lengthAdjust", "spacingAndGlyphs")
        .text(P.yr);
}

panels.forEach((P, i) => drawPanel(P, layout[i], i));
</script>
</body>
</html>
